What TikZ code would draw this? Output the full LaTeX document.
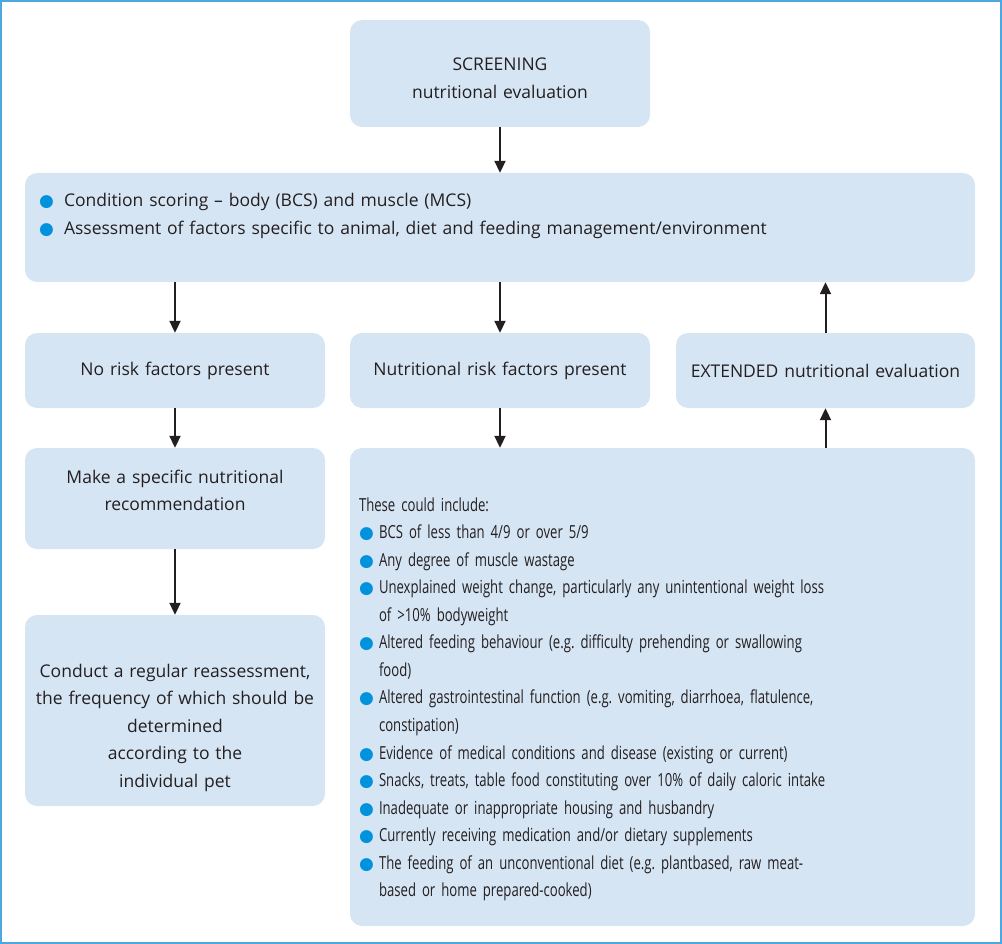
\documentclass[tikz,border=0pt]{standalone}
\usepackage{fontspec}
\setmainfont{Open Sans}
\newfontfamily\narrowfont[FakeStretch=0.73]{Open Sans}
\newfontfamily\dotfont{DejaVu Sans}
\usetikzlibrary{arrows.meta,positioning}
\definecolor{panelblue}{RGB}{214,229,244}
\definecolor{dotblue}{RGB}{0,146,221}
\definecolor{framecyan}{RGB}{77,168,224}
\definecolor{inkgrey}{RGB}{35,31,32}
\newcommand{\dotmark}{{\dotfont\fontsize{17}{17}\selectfont\textcolor{dotblue}{●}}}
\newcommand{\bhang}[1][20pt]{\hangindent=#1\hangafter=1\noindent\makebox[#1][l]{\dotmark}}
\newcommand{\bitem}[1][20pt]{\par\bhang[#1]}
\frenchspacing

\begin{document}
\begin{tikzpicture}[x=1pt,y=-1pt,
  panel/.style={fill=panelblue,rounded corners=12pt,inner sep=0pt,text=inkgrey,
    font=\frenchspacing\fontsize{17.5}{27.5}\selectfont},
  flow/.style={draw=inkgrey,line width=2pt,-{Triangle[length=12pt,width=11pt]}}]
 \useasboundingbox (0,0) rectangle (1002,944);
 \draw[framecyan,line width=2pt] (1,1) rectangle (1001,943);
 % top of the chart
 \node[panel,text width=300pt,align=center,text height=51pt,text depth=56pt]
  (screen) at (500,73.5) {SCREENING\\nutritional evaluation};
 \node[panel,inner xsep=14pt,text width=922pt,align=left,text height=34pt,text depth=75pt]
  (assess) at (500,227.5)
  {\bhang[25pt]Condition scoring -- body (BCS) and muscle (MCS)
   \bitem[25pt]Assessment of factors specific to animal, diet and feeding management/environment\par};
 % middle row
 \node[panel,text width=300pt,align=center,minimum height=75pt]
  (norisk) at (175,370.5) {No risk factors present};
 \node[panel,text width=300pt,align=center,minimum height=75pt]
  (riskfac) at (500,370.5) {Nutritional risk factors present};
 \node[panel,text width=299pt,align=center,minimum height=75pt]
  (extended) at (825.5,370.5) {EXTENDED nutritional evaluation};
 % left column
 \node[panel,text width=300pt,align=center,text height=35pt,text depth=66pt]
  (recommend) at (175,498.5) {Make a specific nutritional\\recommendation};
 \node[panel,text width=300pt,align=center,text height=62pt,text depth=129pt]
  (reassess) at (175,710.5)
  {Conduct a regular reassessment,\\the frequency of which should be\\determined\\according to the\\individual pet};
 % risk factor list
 \node[panel,inner xsep=9pt,text width=607pt,align=left,text height=63pt,text depth=415pt,
  font=\narrowfont\frenchspacing\fontsize{18}{27.57}\selectfont]
  (factors) at (662.5,687)
  {These could include:
   \bitem BCS of less than 4/9 or over 5/9
   \bitem Any degree of muscle wastage
   \bitem Unexplained weight change, particularly any unintentional weight loss\newline of >10\% bodyweight
   \bitem Altered feeding behaviour (e.g. difficulty prehending or swallowing\newline food)
   \bitem Altered gastrointestinal function (e.g. vomiting, diarrhoea, flatulence,\newline constipation)
   \bitem Evidence of medical conditions and disease (existing or current)
   \bitem Snacks, treats, table food constituting over 10\% of daily caloric intake
   \bitem Inadequate or inappropriate housing and husbandry
   \bitem Currently receiving medication and/or dietary supplements
   \bitem The feeding of an unconventional diet (e.g. plantbased, raw meat-\newline based or home prepared-cooked)\par};
 % arrows
 \draw[flow] (screen) -- (assess);
 \draw[flow] (norisk.north |- assess.south) -- (norisk);
 \draw[flow] (riskfac.north |- assess.south) -- (riskfac);
 \draw[flow] (extended) -- (extended.north |- assess.south);
 \draw[flow] (norisk) -- (recommend);
 \draw[flow] (recommend) -- (reassess);
 \draw[flow] (riskfac) -- (riskfac.south |- factors.north);
 \draw[flow] (extended.south |- factors.north) -- (extended);
\end{tikzpicture}
\end{document}
